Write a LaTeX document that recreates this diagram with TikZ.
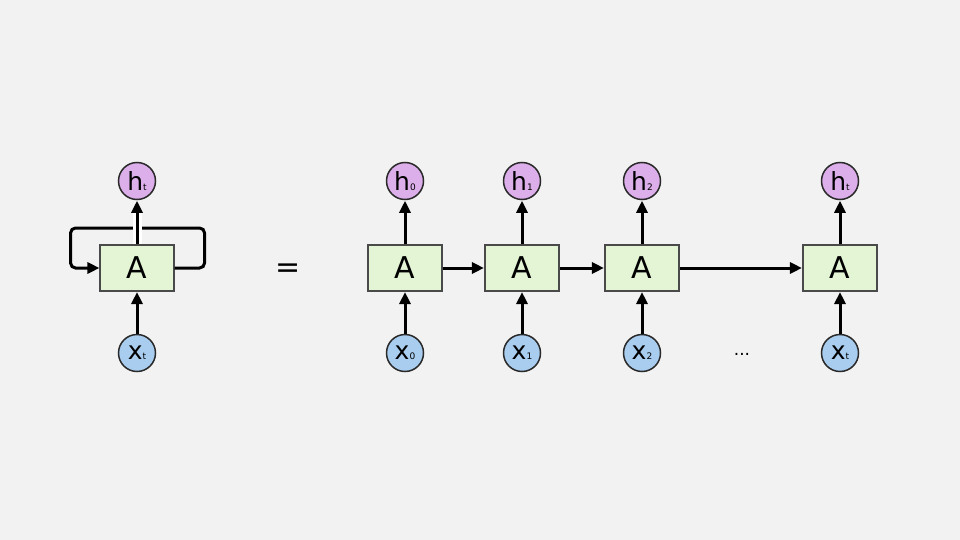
\documentclass[tikz,border=0pt]{standalone}
\usepackage{fontspec}
\setmainfont{DejaVu Sans}
\usetikzlibrary{arrows.meta,calc}
\definecolor{bg}{HTML}{F2F2F2}
\definecolor{cellfill}{HTML}{E3F5D5}
\definecolor{cellline}{HTML}{4A4A4A}
\definecolor{hfill}{HTML}{DCAEEA}
\definecolor{xfill}{HTML}{A9CDEF}
\definecolor{ringline}{HTML}{2A2A2A}
\newcommand{\lbl}[2]{{\fontsize{25}{25}\selectfont #1}{\fontsize{9}{9}\selectfont #2}}
\tikzset{
  cellbox/.style={draw=cellline, line width=1.1pt, fill=cellfill, minimum width=74pt, minimum height=46pt, inner sep=0pt, font=\fontsize{30}{30}\selectfont},
  hnode/.style={circle, draw=ringline, line width=1.5pt, fill=hfill, minimum size=37pt, inner sep=0pt},
  xnode/.style={circle, draw=ringline, line width=1.5pt, fill=xfill, minimum size=37pt, inner sep=0pt},
  tip/.style={-{Triangle[length=12pt,width=11pt]}},
  arr/.style={line width=3pt, tip, shorten >=0.5pt},
  gapline/.style={line width=3pt, preaction={draw=white, line width=9pt}, tip, shorten >=0.5pt}
}
\begin{document}
\begin{tikzpicture}[x=1pt,y=-1pt]
\fill[bg] (0,0) rectangle (960,540);
\useasboundingbox (0,0) rectangle (960,540);
% left folded cell
\node[cellbox] (L) at (137,268) {A};
\node[hnode] (Lh) at (137,181) {\lbl{h}{t}};
\node[xnode] (Lx) at (137,353) {\lbl{x}{t}};
\draw[line width=3pt, rounded corners=5pt, tip] (L.east) -- ++(30,0) -- ++(0,-40) -- ++(-134,0) -- ++(0,40) -- (L.west);
\draw[gapline] (L.north) -- (Lh.south);
\draw[arr] (Lx.north) -- (L.south);
% equals
\node[font=\fontsize{30}{30}\selectfont] (eq) at (288,271) {=};
% unrolled cells
\foreach \n/\cx/\s in {0/405/0, 1/522/1, 2/642/2, 3/840/t} {
  \node[cellbox] (A\n) at (\cx,268) {A};
  \node[hnode] (h\n) at (\cx,181) {\lbl{h}{\s}};
  \node[xnode] (x\n) at (\cx,353) {\lbl{x}{\s}};
  \draw[arr] (A\n.north) -- (h\n.south);
  \draw[arr] (x\n.north) -- (A\n.south);
}
\draw[arr] (A0.east) -- (A1.west);
\draw[arr] (A1.east) -- (A2.west);
\draw[arr] (A2.east) -- (A3.west);
\node[font=\fontsize{17}{17}\selectfont] (dots) at (742,354) {...};
\end{tikzpicture}
\end{document}
